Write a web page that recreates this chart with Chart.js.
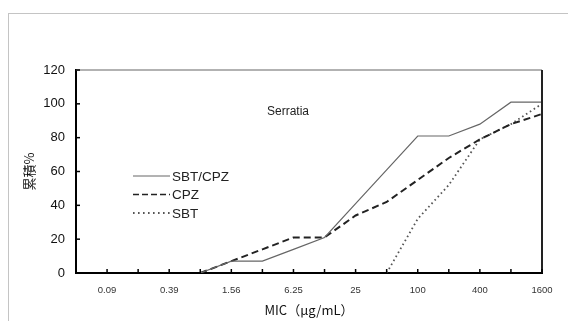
<!DOCTYPE html>
<html>
<head>
<meta charset="utf-8">
<script src="https://cdn.jsdelivr.net/npm/chart.js@4.4.1/dist/chart.umd.min.js"></script>
<style>
  body { margin: 0; background: #fff; }
  #wrap { position: relative; width: 568px; height: 321px; overflow: hidden; }
  #frame { position: absolute; left: 8px; top: 13px; width: 600px; height: 400px; border: 1px solid #c4c4c4; }
  #mycanvas { position: absolute; left: 0; top: 0; }
</style>
</head>
<body>
<div id="wrap">
  <div id="frame"></div>
  <canvas id="mycanvas" width="568" height="321"></canvas>
</div>
<script>
// MIC steps (first one is the axis origin, no label)
var mic = ['', '0.09', '0.19', '0.39', '0.78', '1.56', '3.13', '6.25', '12.5', '25', '50', '100', '200', '400', '800', '1600'];
var tickLabels = ['0.09', '0.39', '1.56', '6.25', '25', '100', '400', '1600'];

// cumulative %
var sbtCpz = [null, null, null, null, 0, 7, 7, 14, 21, 41, 61, 81, 81, 88, 101, 101];
var cpz    = [null, null, null, null, 0, 7, 14, 21, 21, 34, 42, 55, 68, 79, 88, 94];
var sbt    = [null, null, null, null, null, null, null, null, null, null, 0, 32, 52, 79, 88, 100];

var seriesNames = ['SBT/CPZ', 'CPZ', 'SBT'];
var titleText = 'Serratia';

// little ticks pointing inward + top/right frame of the plot
var framePlugin = {
  id: 'framePlugin',
  afterDraw: function(chart) {
    var ctx = chart.ctx;
    var a = chart.chartArea;
    var x = chart.scales.x, y = chart.scales.y;
    ctx.save();
    ctx.strokeStyle = '#999';
    ctx.lineWidth = 1.5;
    ctx.beginPath();
    ctx.moveTo(a.left, a.top);
    ctx.lineTo(a.right, a.top);
    ctx.stroke();
    ctx.strokeStyle = '#222';
    ctx.lineWidth = 2;
    ctx.beginPath();
    ctx.moveTo(a.right, a.top);
    ctx.lineTo(a.right, a.bottom);
    ctx.stroke();

    ctx.strokeStyle = '#000';
    ctx.lineWidth = 1.5;
    for (var i = 1; i < mic.length; i++) {
      var px = x.getPixelForValue(i);
      ctx.beginPath();
      ctx.moveTo(px, a.bottom);
      ctx.lineTo(px, a.bottom - 4);
      ctx.stroke();
    }
    y.ticks.forEach(function(t) {
      var py = y.getPixelForValue(t.value);
      ctx.beginPath();
      ctx.moveTo(a.left, py);
      ctx.lineTo(a.left + 4, py);
      ctx.stroke();
    });

    // title inside plot
    ctx.fillStyle = '#222';
    ctx.font = '12px "Liberation Sans", Arial, sans-serif';
    ctx.textAlign = 'center';
    ctx.textBaseline = 'middle';
    ctx.fillText(titleText, 288, 112);

    // legend inside plot
    ctx.font = '13.5px "Liberation Sans", Arial, sans-serif';
    ctx.textAlign = 'left';
    chart.data.datasets.forEach(function(ds, k) {
      var ly = 176 + k * 18.5;
      ctx.strokeStyle = ds.borderColor;
      ctx.lineWidth = k === 0 ? 1 : (k === 1 ? 1.6 : 1.8);
      ctx.setLineDash(k === 0 ? [] : (k === 1 ? [6, 3] : [1.6, 3.4]));
      ctx.beginPath();
      ctx.moveTo(133, ly);
      ctx.lineTo(170, ly);
      ctx.stroke();
      ctx.setLineDash([]);
      ctx.fillStyle = '#222';
      ctx.fillText(ds.label, 172, ly + 1);
    });
    ctx.restore();
  }
};

var chartdata = {
  labels: mic,
  datasets: [
    {
      label: seriesNames[0],
      data: sbtCpz,
      borderColor: '#666',
      borderWidth: 1.2,
      pointRadius: 0,
      tension: 0
    },
    {
      label: seriesNames[1],
      data: cpz,
      borderColor: '#222',
      borderWidth: 2,
      borderDash: [7, 4],
      pointRadius: 0,
      tension: 0
    },
    {
      label: seriesNames[2],
      data: sbt,
      borderColor: '#555',
      borderWidth: 1.8,
      borderDash: [1.6, 3],
      pointRadius: 0,
      tension: 0
    }
  ]
};

var ctx = document.getElementById('mycanvas');
var lineGraph = new Chart(ctx, {
  type: 'line',
  data: chartdata,
  plugins: [framePlugin],
  options: {
    responsive: false,
    animation: false,
    devicePixelRatio: 1,
    layout: { padding: { left: 15, top: 70, right: 26, bottom: 0 } },
    plugins: {
      legend: { display: false },
      tooltip: { enabled: false }
    },
    scales: {
      x: {
        offset: false,
        grid: { display: false, drawTicks: false },
        border: { display: true, color: '#000', width: 2 },
        afterFit: function(s) { s.height = 48; },
        ticks: {
          autoSkip: false,
          maxRotation: 0,
          padding: 12,
          color: '#333',
          font: { family: '"Liberation Sans", Arial, sans-serif', size: 9.5 },
          callback: function(v) {
            var l = mic[v];
            return tickLabels.indexOf(l) >= 0 ? l : '';
          }
        },
        title: {
          display: true,
          text: 'MIC（μg/mL）',
          color: '#111',
          padding: { top: 0, bottom: 3 },
          font: { family: '"Noto Sans CJK JP", "Liberation Sans", sans-serif', size: 13 }
        }
      },
      y: {
        min: 0,
        max: 120,
        grid: { display: false, drawTicks: false },
        border: { display: true, color: '#000', width: 2 },
        afterFit: function(s) { s.width = 61; },
        ticks: {
          stepSize: 20,
          padding: 11,
          color: '#111',
          font: { family: '"Liberation Sans", Arial, sans-serif', size: 13 }
        },
        title: {
          display: true,
          text: '累積%',
          color: '#111',
          padding: { top: 6, bottom: 0 },
          font: { family: '"Noto Sans CJK JP", sans-serif', size: 13 }
        }
      }
    }
  }
});
</script>
</body>
</html>
